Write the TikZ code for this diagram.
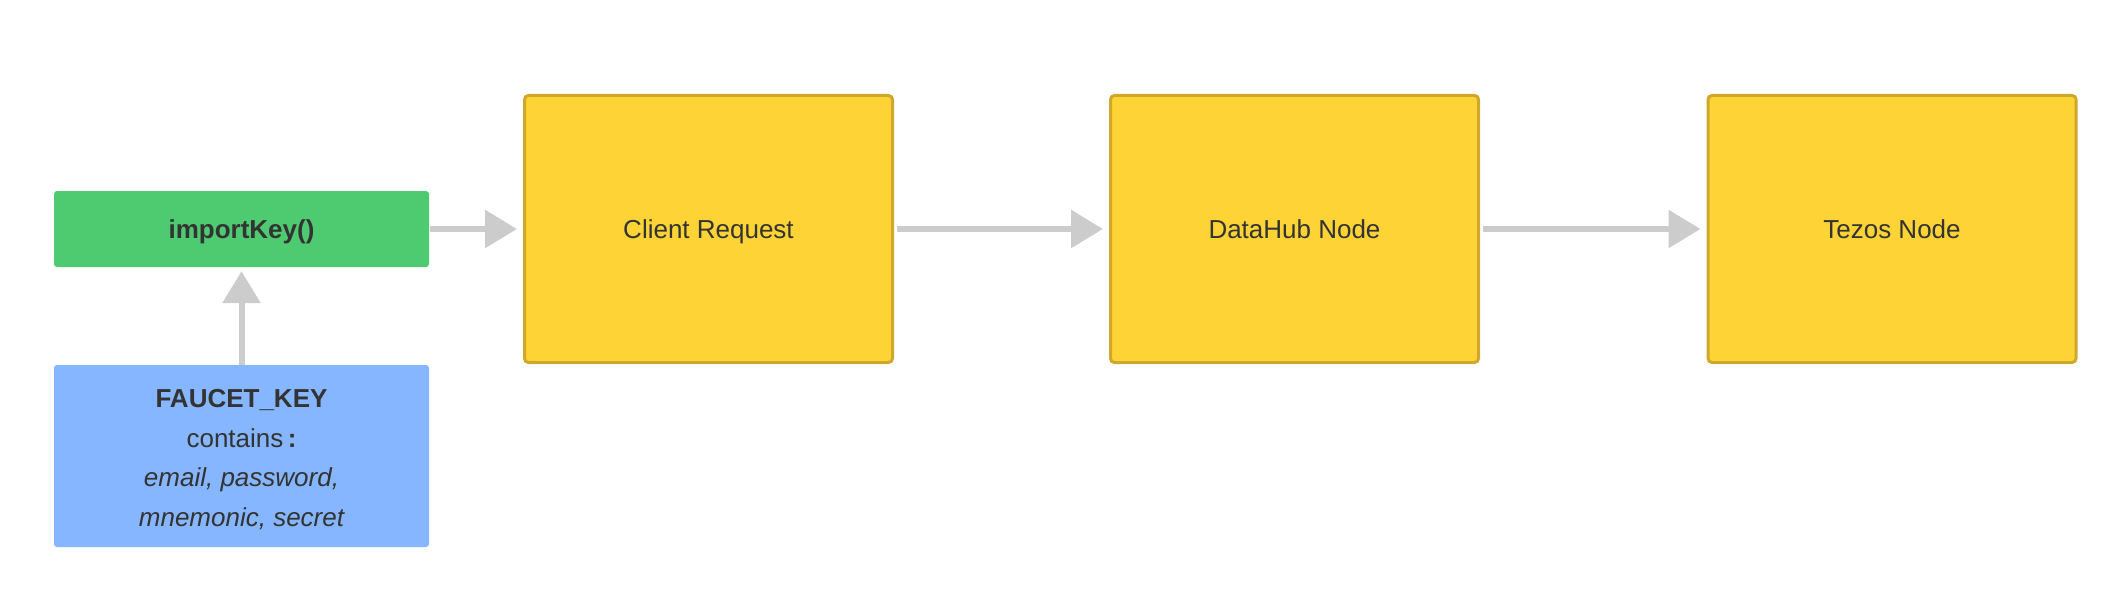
\documentclass[tikz,border=0pt]{standalone}
\usepackage{fontspec}
\setmainfont{Liberation Sans}
\usetikzlibrary{arrows.meta}
\definecolor{txt}{HTML}{333333}
\definecolor{gfill}{HTML}{4ECB71}
\definecolor{bfill}{HTML}{85B6FF}
\definecolor{yfill}{HTML}{FDD335}
\definecolor{yline}{HTML}{CFA82B}
\definecolor{arr}{HTML}{CCCCCC}
\begin{document}
\begin{tikzpicture}[x=1pt,y=-1pt,
  every node/.style={text=txt,font=\fontsize{26}{39.5}\selectfont,align=center,inner sep=0pt},
  oneline/.style={text height=24pt,text depth=6pt},
  greenbox/.style={oneline,fill=gfill,rounded corners=3pt,minimum width=375pt,minimum height=76pt},
  bluebox/.style={fill=bfill,rounded corners=3pt,minimum width=375pt,minimum height=182pt},
  yellowbox/.style={oneline,fill=yfill,draw=yline,line width=3pt,rounded corners=4pt,minimum width=368pt,minimum height=267pt},
  flow/.style={draw=arr,line width=6pt,-{Triangle[length=32pt,width=37pt]}}
]
\useasboundingbox (0,0) rectangle (2123,599);
\node[greenbox] (imp) at (241.5,229) {\bfseries importKey()};
\node[bluebox] (fk) at (241.5,456) {\rule{0pt}{25pt}\bfseries FAUCET\_KEY\\contains\,\textbf{:}\\\itshape email, password,\\\itshape mnemonic, secret};
\node[yellowbox] (cr) at (708.5,229) {Client Request};
\node[yellowbox] (dh) at (1294.5,229) {DataHub Node};
\node[yellowbox] (tz) at (1892,229) {Tezos Node};
\draw[flow,shorten <=1pt,shorten >=6pt] (imp.east) -- (cr.west);
\draw[flow,shorten <=3pt,shorten >=6pt] (cr.east) -- (dh.west);
\draw[flow,shorten <=3pt,shorten >=6pt] (dh.east) -- (tz.west);
\draw[flow,shorten >=4pt] (fk.north) -- (imp.south);
\end{tikzpicture}
\end{document}
